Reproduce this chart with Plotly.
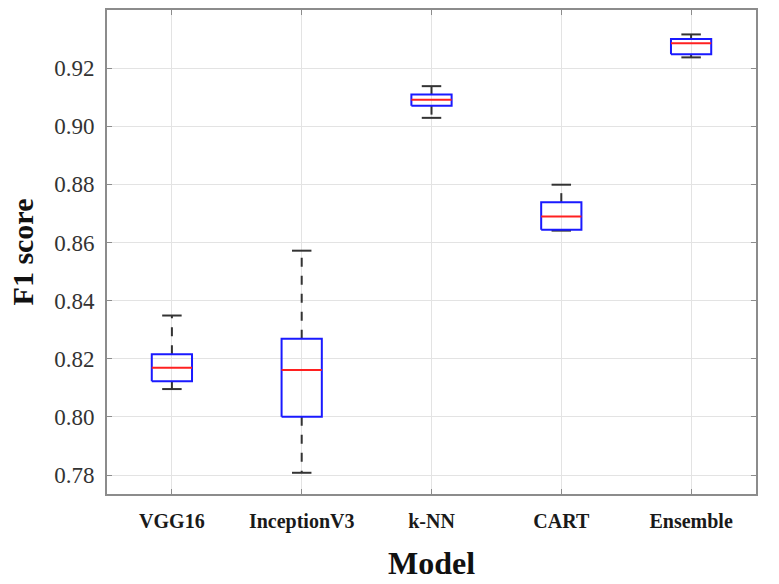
import plotly.graph_objects as go

models = ["VGG16", "InceptionV3", "k-NN", "CART", "Ensemble"]
upper_whisker = [0.8349, 0.8572, 0.9138, 0.8799, 0.9316]
q3 = [0.8216, 0.8269, 0.9109, 0.8739, 0.9300]
median = [0.8169, 0.8162, 0.9091, 0.8690, 0.9286]
q1 = [0.8123, 0.8001, 0.9071, 0.8644, 0.9248]
lower_whisker = [0.8096, 0.7808, 0.9029, 0.8641, 0.9237]
y_ticks = [0.78, 0.80, 0.82, 0.84, 0.86, 0.88, 0.90, 0.92]

BOX_HW = 0.155
CAP_HW = 0.075

wx, wy, cx, cy, bx, by, mx, my = [], [], [], [], [], [], [], []
for i in range(len(models)):
    wx += [i, i, None, i, i, None]
    wy += [q3[i], upper_whisker[i], None, q1[i], lower_whisker[i], None]
    cx += [i - CAP_HW, i + CAP_HW, None, i - CAP_HW, i + CAP_HW, None]
    cy += [upper_whisker[i], upper_whisker[i], None, lower_whisker[i], lower_whisker[i], None]
    bx += [i - BOX_HW, i + BOX_HW, i + BOX_HW, i - BOX_HW, i - BOX_HW, None]
    by += [q1[i], q1[i], q3[i], q3[i], q1[i], None]
    mx += [i - BOX_HW, i + BOX_HW, None]
    my += [median[i], median[i], None]

fig = go.Figure()
fig.add_trace(go.Scatter(x=wx, y=wy, mode="lines",
                         line=dict(color="#333333", width=2, dash="dash"), hoverinfo="skip"))
fig.add_trace(go.Scatter(x=cx, y=cy, mode="lines",
                         line=dict(color="#333333", width=2), hoverinfo="skip"))
fig.add_trace(go.Scatter(x=bx, y=by, mode="lines",
                         line=dict(color="#1a1aff", width=2), hoverinfo="skip"))
fig.add_trace(go.Scatter(x=mx, y=my, mode="lines",
                         line=dict(color="#ff2020", width=2), hoverinfo="skip"))

SERIF = "Liberation Serif, serif"
fig.update_layout(
    width=779, height=584,
    margin=dict(l=107, r=23, t=10, b=90),
    paper_bgcolor="white", plot_bgcolor="white",
    showlegend=False,
    font=dict(family=SERIF, color="#222222"),
    xaxis=dict(
        range=[-0.5, 4.5], automargin=False,
        tickvals=list(range(len(models))), ticktext=models,
        tickfont=dict(size=20, family=SERIF, color="#1a1a1a", weight="bold"),
        ticklabelstandoff=8,
        showgrid=True, gridcolor="#e3e3e3", gridwidth=1,
        showline=True, linecolor="#8c8c8c", linewidth=2, mirror="allticks",
        ticks="inside", ticklen=5, tickcolor="#8c8c8c",
        zeroline=False,
        title=dict(text="<b>Model</b>", font=dict(size=32, family=SERIF, color="#111111"), standoff=20),
    ),
    yaxis=dict(
        range=[0.7735, 0.94], automargin=False,
        tickvals=y_ticks, tickformat=".2f",
        tickfont=dict(size=23, family=SERIF, color="#333333"),
        ticklabelstandoff=6,
        showgrid=True, gridcolor="#e3e3e3", gridwidth=1,
        showline=True, linecolor="#8c8c8c", linewidth=2, mirror="allticks",
        ticks="inside", ticklen=5, tickcolor="#8c8c8c",
        zeroline=False,
        title=dict(text="<b>F1 score</b>", font=dict(size=30, family=SERIF, color="#111111"), standoff=12),
    ),
)

fig.write_html("out.html",
               config={"displayModeBar": False},
               post_script="document.body.style.margin='0px';document.body.style.overflow='hidden';")
